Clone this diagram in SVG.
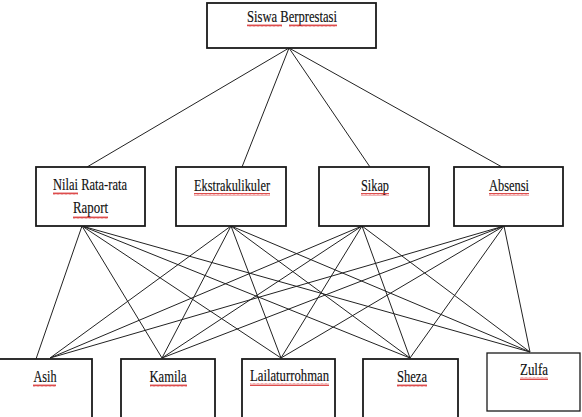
<svg xmlns="http://www.w3.org/2000/svg" width="582" height="417" viewBox="0 0 582 417">
<defs>
<pattern id="sq" width="4" height="3" patternUnits="userSpaceOnUse">
<path d="M0,2.5 L1,0.5 L2,2.5 L3,0.5 L4,2.5" fill="none" stroke="#d42020" stroke-width="0.8"/>
</pattern>
</defs>
<style>
.box{fill:#fff;stroke:#1a1a1a;stroke-width:1.8}
.lbl{font-family:"Liberation Serif","Times New Roman",serif;font-size:16px;fill:#111;text-anchor:middle;stroke:#111;stroke-width:0.15}
.sq{fill:url(#sq)}
.conn line{stroke:#222;stroke-width:1}
</style>
<rect width="582" height="417" fill="#fff"/>
<g id="connectors" class="conn">
<line x1="289" y1="48" x2="87" y2="167"/>
<line x1="289" y1="48" x2="242" y2="167"/>
<line x1="289" y1="48" x2="370" y2="167"/>
<line x1="289" y1="48" x2="502" y2="167"/>
<line x1="82" y1="226" x2="36" y2="359"/>
<line x1="82" y1="226" x2="162" y2="358"/>
<line x1="82" y1="226" x2="281" y2="358"/>
<line x1="82" y1="226" x2="410" y2="358"/>
<line x1="82" y1="226" x2="530" y2="352"/>
<line x1="231" y1="226" x2="50" y2="358"/>
<line x1="231" y1="226" x2="162" y2="358"/>
<line x1="231" y1="226" x2="281" y2="358"/>
<line x1="231" y1="226" x2="410" y2="358"/>
<line x1="231" y1="226" x2="530" y2="352"/>
<line x1="362" y1="226" x2="50" y2="358"/>
<line x1="362" y1="226" x2="162" y2="358"/>
<line x1="362" y1="226" x2="281" y2="358"/>
<line x1="362" y1="226" x2="410" y2="358"/>
<line x1="362" y1="226" x2="530" y2="352"/>
<line x1="504" y1="226" x2="50" y2="358"/>
<line x1="504" y1="226" x2="162" y2="358"/>
<line x1="504" y1="226" x2="281" y2="358"/>
<line x1="504" y1="226" x2="410" y2="358"/>
<line x1="504" y1="226" x2="530" y2="352"/>
</g>
<g id="siswa-berprestasi">
<rect class="box" x="207" y="3" width="169" height="45"/>
<text class="lbl" x="292" y="22" textLength="90" lengthAdjust="spacingAndGlyphs">Siswa Berprestasi</text>
<rect class="sq" x="247" y="24" width="35" height="3"/>
<rect class="sq" x="289" y="24" width="48" height="3"/>
</g>
<g id="nilai">
<rect class="box" x="36" y="167" width="109" height="59"/>
<text class="lbl" x="90" y="190" textLength="74" lengthAdjust="spacingAndGlyphs">Nilai Rata-rata</text>
<text class="lbl" x="90.5" y="213" textLength="35" lengthAdjust="spacingAndGlyphs">Raport</text>
<rect class="sq" x="53" y="192" width="25" height="3"/>
<rect class="sq" x="73" y="216" width="35" height="3"/>
</g>
<g id="ekstrakulikuler">
<rect class="box" x="176" y="167" width="110" height="59"/>
<text class="lbl" x="232" y="191" textLength="76" lengthAdjust="spacingAndGlyphs">Ekstrakulikuler</text>
<rect class="sq" x="194" y="193" width="76" height="3"/>
</g>
<g id="sikap">
<rect class="box" x="319" y="167" width="110" height="59"/>
<text class="lbl" x="375" y="191" textLength="28" lengthAdjust="spacingAndGlyphs">Sikap</text>
<rect class="sq" x="361" y="193" width="28" height="3"/>
</g>
<g id="absensi">
<rect class="box" x="454" y="167" width="109" height="59"/>
<text class="lbl" x="509" y="191" textLength="40" lengthAdjust="spacingAndGlyphs">Absensi</text>
<rect class="sq" x="489" y="193" width="40" height="3"/>
</g>
<g id="asih">
<rect class="box" x="-2" y="359" width="94" height="62"/>
<text class="lbl" x="45" y="382" textLength="23" lengthAdjust="spacingAndGlyphs">Asih</text>
<rect class="sq" x="33" y="384" width="23" height="3"/>
</g>
<g id="kamila">
<rect class="box" x="121" y="359" width="94" height="62"/>
<text class="lbl" x="168" y="382" textLength="37" lengthAdjust="spacingAndGlyphs">Kamila</text>
<rect class="sq" x="150" y="384" width="37" height="3"/>
</g>
<g id="lailaturrohman">
<rect class="box" x="242" y="359" width="93" height="62"/>
<text class="lbl" x="289.5" y="381" textLength="79" lengthAdjust="spacingAndGlyphs">Lailaturrohman</text>
<rect class="sq" x="250" y="383" width="79" height="3"/>
</g>
<g id="sheza">
<rect class="box" x="363" y="359" width="95" height="62"/>
<text class="lbl" x="412" y="382" textLength="30" lengthAdjust="spacingAndGlyphs">Sheza</text>
<rect class="sq" x="397" y="384" width="30" height="3"/>
</g>
<g id="zulfa">
<rect class="box" x="487" y="353" width="93" height="58" style="stroke-width:1.3"/>
<text class="lbl" x="534" y="375" textLength="28" lengthAdjust="spacingAndGlyphs">Zulfa</text>
<rect class="sq" x="520" y="377" width="28" height="3"/>
</g>
</svg>
